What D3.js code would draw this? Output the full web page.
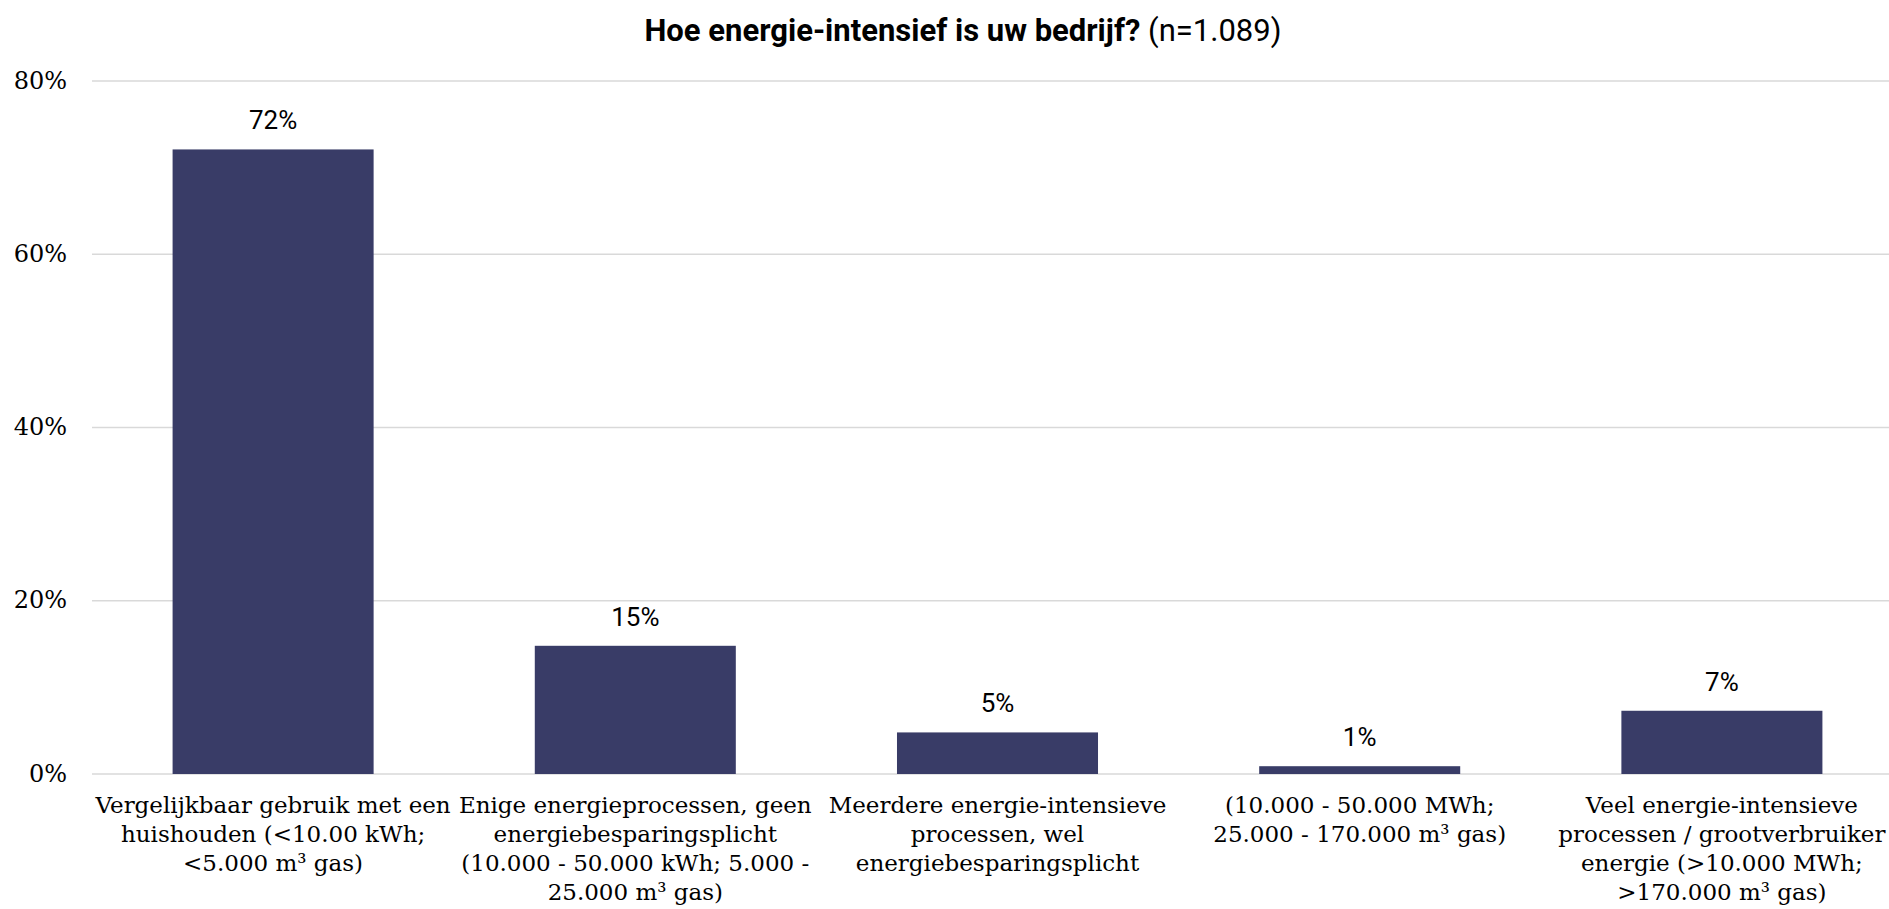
<!DOCTYPE html>
<html><head><meta charset="utf-8">
<script src="https://cdn.jsdelivr.net/npm/d3@7"></script>
<style>html,body{margin:0;padding:0;background:#fff;overflow:hidden}</style>
</head><body>
<svg id="chart" width="1889" height="909"></svg>
<script>
const categories = [
  ["Vergelijkbaar gebruik met een", "huishouden (<10.00 kWh;", "<5.000 m³ gas)"],
  ["Enige energieprocessen, geen", "energiebesparingsplicht", "(10.000 - 50.000 kWh; 5.000 -", "25.000 m³ gas)"],
  ["Meerdere energie-intensieve", "processen, wel", "energiebesparingsplicht"],
  ["(10.000 - 50.000 MWh;", "25.000 - 170.000 m³ gas)"],
  ["Veel energie-intensieve", "processen / grootverbruiker", "energie (>10.000 MWh;", ">170.000 m³ gas)"]
];
const values = [72.1, 14.8, 4.8, 0.9, 7.3];
const valueLabels = ["72%", "15%", "5%", "1%", "7%"];
const yTicks = [0, 20, 40, 60, 80];
const titleBold = "Hoe energie-intensief is uw bedrijf?";
const titleNormal = " (n=1.089)";

const svg = d3.select("#chart");
const x = d3.scaleBand().domain(d3.range(categories.length)).range([92, 1903]).paddingInner(0.445).paddingOuter(0.2225);
const y = d3.scaleLinear().domain([0, 80]).range([774, 81]);

// gridlines
svg.append("g").selectAll("line").data(yTicks).join("line")
  .attr("x1", 92).attr("x2", 1889)
  .attr("y1", d => y(d)).attr("y2", d => y(d))
  .attr("stroke", "#d9d9d9").attr("stroke-width", 1.5);

// y axis labels
const yAxis = d3.axisLeft(y).tickValues(yTicks).tickFormat(d => d + "%").tickSize(0).tickPadding(0);
const ya = svg.append("g").attr("transform", "translate(67,0)").call(yAxis);
ya.select(".domain").remove();
ya.selectAll("text").attr("font-family", "DejaVu Serif").attr("font-size", 24).attr("fill", "#000").attr("dy", "0.3em");

// bars
svg.append("g").selectAll("rect").data(values).join("rect")
  .attr("x", (d, i) => x(i)).attr("width", x.bandwidth())
  .attr("y", d => y(d)).attr("height", d => y(0) - y(d))
  .attr("fill", "#393c67");

// value labels
svg.append("g").selectAll("text").data(values).join("text")
  .attr("x", (d, i) => x(i) + x.bandwidth() / 2)
  .attr("y", d => y(d) - 20)
  .attr("text-anchor", "middle")
  .attr("font-family", "Roboto").attr("font-size", 26).attr("fill", "#000")
  .text((d, i) => valueLabels[i]);

// category labels
const cg = svg.append("g");
categories.forEach((lines, i) => {
  const t = cg.append("text")
    .attr("x", x(i) + x.bandwidth() / 2)
    .attr("y", 813)
    .attr("text-anchor", "middle")
    .attr("font-family", "DejaVu Serif").attr("font-size", 23).attr("fill", "#000");
  lines.forEach((l, j) => {
    t.append("tspan").attr("x", x(i) + x.bandwidth() / 2).attr("y", 813 + j * 29).text(l);
  });
});

// title
const title = svg.append("text").attr("x", 963).attr("y", 41).attr("text-anchor", "middle")
  .attr("font-family", "Roboto").attr("font-size", 31).attr("fill", "#000");
title.append("tspan").attr("font-weight", "bold").text(titleBold);
title.append("tspan").text(titleNormal);
</script>
</body></html>
